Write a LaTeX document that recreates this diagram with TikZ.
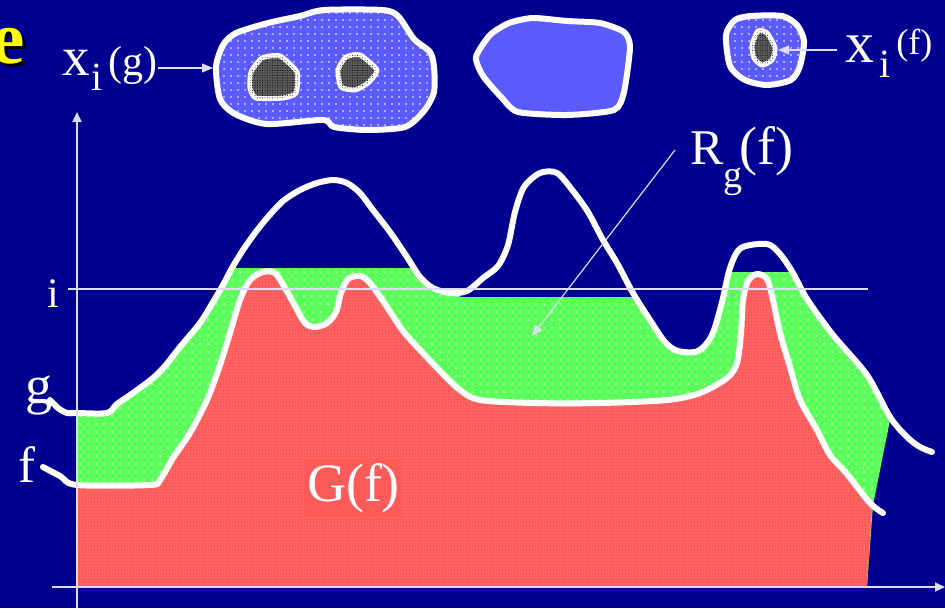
\documentclass[tikz,border=0pt]{standalone}
\usepackage{fontspec}
\setmainfont{Liberation Serif}
\usetikzlibrary{arrows.meta,patterns.meta}
\definecolor{navy}{RGB}{0,0,144}
\definecolor{greenc}{RGB}{90,255,90}
\definecolor{redc}{RGB}{255,90,90}
\definecolor{blobc}{RGB}{90,90,255}
\definecolor{holec}{RGB}{90,90,90}
\definecolor{axisc}{RGB}{220,220,245}
\definecolor{yel}{RGB}{255,255,0}
\def\gcurve{plot[smooth,tension=0.5] coordinates {(50,400) (58,408) (67,413) (77,413) (107,413) (117,404) (133,393) (153,378) (165,366) (180,347) (200,323) (213,302) (223,285) (232,268) (243,250) (255,233) (267,218) (283,201) (300,190) (317,183) (333,180) (347,183) (360,193) (373,210) (390,232) (407,257) (420,277) (433,288) (450,293) (467,291) (483,278) (498,266) (508,245) (515,212) (524,187) (540,173) (557,173) (573,191) (588,212) (603,240) (617,263) (633,293) (650,320) (665,342) (678,351) (698,351) (712,335) (722,302) (730,268) (741,248) (767,244) (780,254) (793,273) (807,299) (833,335) (867,375) (890,417) (907,437) (920,447) (932,452)}}
\def\fcurve{plot[smooth,tension=0.5] coordinates {(43,467) (60,476) (77,485) (150,485) (160,480) (173,458) (190,433) (207,400) (220,365) (230,333) (240,300) (250,280) (263,272) (275,273) (285,288) (295,306) (305,323) (315,327) (327,323) (336,312) (341,293) (348,279) (360,276) (370,283) (387,307) (403,331) (420,350) (440,371) (460,390) (480,400) (533,403) (600,403) (667,400) (700,393) (727,378) (737,363) (741,333) (743,300) (748,281) (757,274) (767,279) (773,300) (780,333) (790,367) (800,400) (817,430) (830,455) (847,474) (870,503) (883,513)}}
\begin{document}
\begin{tikzpicture}[x=1pt,y=-1pt,
  curve/.style={draw=white,line width=6pt,line cap=round,line join=round},
  thinline/.style={draw=axisc,line width=1.8pt},
  arr/.style={draw=axisc,line width=1.8pt,-{Triangle[length=10pt,width=9pt]}},
  slimarr/.style={draw=axisc,line width=1.2pt,-{Triangle[length=11pt,width=9pt]}},
  txt/.style={text=white,inner sep=0pt},
  blobline/.style={draw=white,line width=6pt,line join=round},
  holeline/.style={draw=white,line width=5pt,line join=round,fill=holec,
     postaction={pattern={Dots[distance=2.5pt,radius=0.5pt]},pattern color=black}},
  dotsw/.style={pattern={Dots[distance=7pt,radius=0.8pt]},pattern color=white},
]
\useasboundingbox (0,0) rectangle (945,608);
\fill[navy] (0,0) rectangle (945,608);

% green region R_g(f)
\begin{scope}
\clip (77,268) -- (460,268) -- (460,297) -- (712,297) -- (712,272) -- (892,272) -- (890,420) -- (873,505) -- (867,587) -- (77,587) -- cycle;
\fill[greenc,postaction={pattern={Dots[distance=8pt,radius=0.8pt]},pattern color=white}] \gcurve -- (940,600) -- (50,600) -- cycle;
\end{scope}

% red region G(f)
\begin{scope}
\clip (77,0) -- (880,0) -- (872,507) -- (867,587) -- (77,587) -- cycle;
\fill[redc,postaction={pattern={Dots[distance=3pt,radius=0.45pt]},pattern color=white}] \fcurve -- (883,600) -- (43,600) -- cycle;
\end{scope}

\node[txt,fill=redc,minimum width=97pt,minimum height=57pt,font=\fontsize{54}{54}\selectfont] (gf) at (353.5,488.5) {G(f)};

% curves
\draw[curve] \gcurve;
\draw[curve] \fcurve;

% axes
\coordinate (yb) at (77,608);
\coordinate (yt) at (77,112);
\coordinate (xl) at (52,587);
\coordinate (xr) at (945,587);
\coordinate (il) at (68,289);
\coordinate (ir) at (868,289);
\draw[arr] (yb) -- (yt);
\draw[arr] (xl) -- (xr);
\draw[thinline,line width=1.5pt] (il) -- (ir);

% axis labels
\node[txt,anchor=base west,font=\fontsize{42}{42}\selectfont] (ilab) at (47,307) {i};
\node[txt,anchor=base west,font=\fontsize{54}{54}\selectfont] (glab) at (25,403) {g};
\node[txt,anchor=base west,font=\fontsize{51}{51}\selectfont] (flab) at (18,482) {f};

% cut-off title letter
\node[anchor=base east,inner sep=0pt,text=black,font=\bfseries\fontsize{75}{75}\selectfont] (eshadow) at (28,66) {e};
\node[anchor=base east,inner sep=0pt,text=yel,font=\bfseries\fontsize{75}{75}\selectfont] (etitle) at (25,63) {e};

% blob 1 (x_i(g))
\draw[blobline,fill=blobc,postaction={dotsw}] plot[smooth cycle,tension=0.45] coordinates {(216,67) (223,45) (236,33) (268,23) (300,16) (324,10) (382,10) (398,16) (414,39) (430,52) (434,67) (434,92) (424,111) (405,127) (367,130) (334,127) (323,120) (267,124) (235,114) (220,99)};
\draw[holeline] plot[smooth cycle,tension=0.35] coordinates {(251,72) (262,58) (280,56) (297,72) (296,93) (283,98) (256,98) (250,88)};
\draw[holeline] plot[smooth cycle,tension=0.35] coordinates {(338,70) (346,57) (360,55) (377,70) (368,83) (355,90) (341,87)};
% blob 2
\draw[blobline,fill=blobc] plot[smooth cycle,tension=0.4] coordinates {(476,57) (490,35) (509,23) (533,18) (567,21) (600,23) (624,32) (630,47) (624,92) (614,110) (567,115) (518,112) (502,98) (483,76)};
% blob 3 (x_i(f))
\draw[blobline,fill=blobc,postaction={dotsw}] plot[smooth cycle,tension=0.45] coordinates {(726,35) (735,20) (751,16) (782,16) (797,25) (804,41) (800,66) (791,80) (767,85) (745,80) (730,66)};
\draw[holeline] plot[smooth cycle,tension=0.4] coordinates {(752,45) (758,31) (767,33) (775,48) (772,60) (762,65) (754,58)};

% labels of the sections
\node[txt,anchor=base west] (xg) at (62,75) {\fontsize{55}{55}\selectfont x\kern2pt\raisebox{-15pt}{\fontsize{40}{40}\selectfont i}\kern6pt\fontsize{42}{42}\selectfont(g)};
\coordinate (b1w) at (213,68);
\draw[slimarr] (xg.east |- b1w) -- (b1w);

\node[txt,anchor=base west] (xf) at (845,62) {\fontsize{58}{58}\selectfont x\kern5pt\raisebox{-15pt}{\fontsize{40}{40}\selectfont i}\kern6pt\raisebox{8pt}{\fontsize{36}{36}\selectfont(f)}};
\coordinate (b3e) at (778,50);
\draw[slimarr] ([xshift=-8pt]xf.west |- b3e) -- (b3e);

\node[txt,anchor=base west] (rg) at (690,164) {\fontsize{50}{50}\selectfont R\raisebox{-23pt}{\fontsize{38}{38}\selectfont g}\kern-3pt\fontsize{54}{54}\selectfont(f)};
\coordinate (rgtail) at (675,150);
\coordinate (rghead) at (532,336);
\draw[slimarr] (rgtail) -- (rghead);
\end{tikzpicture}
\end{document}
